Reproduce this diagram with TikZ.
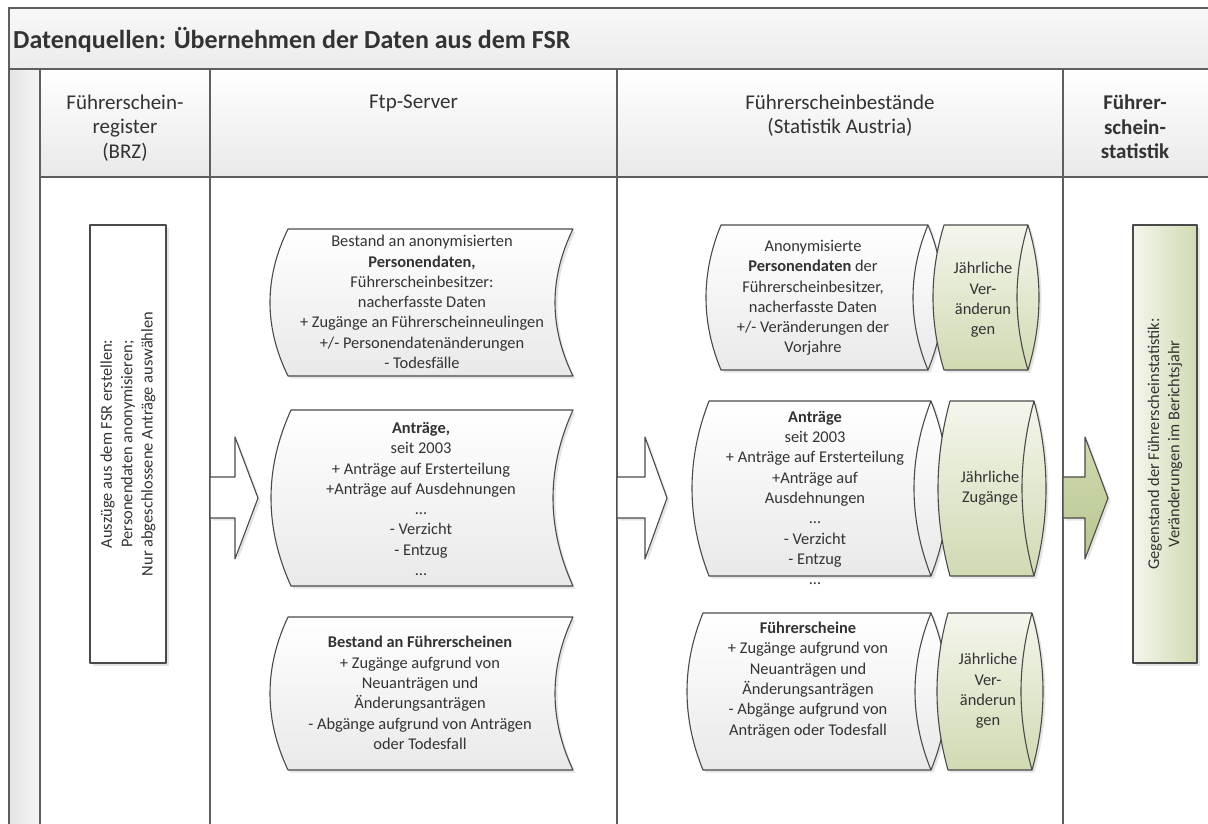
\documentclass[tikz,border=0pt]{standalone}
\usepackage{fontspec}
\setmainfont{Carlito}
\definecolor{framec}{HTML}{5E5E5E}
\definecolor{borderc}{HTML}{4A4A4A}
\definecolor{textc}{HTML}{333333}
\definecolor{graybot}{HTML}{E9E9E9}
\definecolor{greentop}{HTML}{F4F6EC}
\definecolor{greenbot}{HTML}{D0DAB2}
\definecolor{arrowtop}{HTML}{CFD9AF}
\definecolor{arrowbot}{HTML}{B9C791}
\definecolor{titletop}{HTML}{F8F8F8}
\definecolor{titlebot}{HTML}{EBEBEB}
\definecolor{hdrbot}{HTML}{E9E9E9}
\definecolor{gutl}{HTML}{E4E4E4}
\definecolor{gutr}{HTML}{F6F6F6}
\tikzset{
  frameln/.style={draw=framec, line width=1.3pt},
  shp/.style={draw=borderc, line width=1.1pt, line join=round},
  gfill/.style={top color=white, bottom color=graybot},
  grfill/.style={top color=greentop, bottom color=greenbot},
  shadowst/.style={fill=black, opacity=0.10, xshift=2.5pt, yshift=-2.5pt},
  txt/.style={font=\fontsize{16.4}{20.3}\selectfont, align=center, text=textc, inner sep=0pt},
  hdr/.style={font=\fontsize{21}{24.2}\selectfont, align=center, text=textc, inner sep=0pt, anchor=north},
}
% stored data shape: xl xr yt yb bulge
\newcommand\StoredShape[5]{%
  \fill[shadowst] (#1,#3) -- (#2,#3) .. controls ({#2-4*#5/3},{#3+(#4-#3)/3}) and ({#2-4*#5/3},{#4-(#4-#3)/3}) .. (#2,#4) -- (#1,#4) .. controls ({#1-4*#5/3},{#4-(#4-#3)/3}) and ({#1-4*#5/3},{#3+(#4-#3)/3}) .. (#1,#3) -- cycle;
  \path[shp,gfill] (#1,#3) -- (#2,#3) .. controls ({#2-4*#5/3},{#3+(#4-#3)/3}) and ({#2-4*#5/3},{#4-(#4-#3)/3}) .. (#2,#4) -- (#1,#4) .. controls ({#1-4*#5/3},{#4-(#4-#3)/3}) and ({#1-4*#5/3},{#3+(#4-#3)/3}) .. (#1,#3) -- cycle;
}
% horizontal cylinder: xl xr yt yb bulge fillstyle
\newcommand\CylShape[6]{%
  \fill[shadowst] (#1,#3) -- (#2,#3) .. controls ({#2+4*#5/3},{#3+(#4-#3)/3}) and ({#2+4*#5/3},{#4-(#4-#3)/3}) .. (#2,#4) -- (#1,#4) .. controls ({#1-4*#5/3},{#4-(#4-#3)/3}) and ({#1-4*#5/3},{#3+(#4-#3)/3}) .. (#1,#3) -- cycle;
  \path[shp,#6] (#1,#3) -- (#2,#3) .. controls ({#2+4*#5/3},{#3+(#4-#3)/3}) and ({#2+4*#5/3},{#4-(#4-#3)/3}) .. (#2,#4) -- (#1,#4) .. controls ({#1-4*#5/3},{#4-(#4-#3)/3}) and ({#1-4*#5/3},{#3+(#4-#3)/3}) .. (#1,#3) -- cycle;
  \draw[shp] (#2,#3) .. controls ({#2-4*#5/3},{#3+(#4-#3)/3}) and ({#2-4*#5/3},{#4-(#4-#3)/3}) .. (#2,#4);
}
% block arrow: x0 xbase xtip fillstyle
\newcommand\BlockArrow[4]{%
  \fill[shadowst] (#1,477) -- (#2,477) -- (#2,437) -- (#3,498) -- (#2,559) -- (#2,518) -- (#1,518) -- cycle;
  \path[shp,#4] (#1,477) -- (#2,477) -- (#2,437) -- (#3,498) -- (#2,559) -- (#2,518) -- (#1,518) -- cycle;
}
\begin{document}
\begin{tikzpicture}[x=1pt,y=-1pt]
\useasboundingbox (0,0) rectangle (1208,823);
\clip (0,0) rectangle (1208,823);
\fill[white] (0,0) rectangle (1208,823);
% backgrounds
\path[top color=titletop, bottom color=titlebot] (9,8) rectangle (1212,69);
\path[top color=white, bottom color=hdrbot] (40,69) rectangle (1212,177);
\path[left color=gutl, right color=gutr] (9,69) rectangle (40,830);
% frame lines
\draw[frameln] (1212,8) -- (9,8) -- (9,830);
\draw[frameln] (9,69) -- (1212,69);
\draw[frameln] (40,177) -- (1212,177);
\draw[frameln] (40,69) -- (40,830);
\draw[frameln] (210,69) -- (210,830);
\draw[frameln] (617,69) -- (617,830);
\draw[frameln] (1063,69) -- (1063,830);
% title and headers
\node[anchor=west, inner sep=0pt, text=textc, font=\fontsize{26}{30}\selectfont\bfseries] (title) at (13,40) {Datenquellen: Übernehmen der Daten aus dem FSR};
\node[hdr] (h1) at (125,95) {Führerschein-\\register\\(BRZ)};
\node[hdr] (h2) at (413.5,95) {Ftp-Server};
\node[hdr] (h3) at (840,95) {Führerscheinbestände\\(Statistik Austria)};
\node[hdr, font=\fontsize{21}{24.2}\selectfont\bfseries] (h4) at (1135,95) {Führer-\\schein-\\statistik};
% column 1 box
\fill[shadowst] (90,225) rectangle (166,663);
\path[shp, fill=white] (90,225) rectangle (166,663);
\node[txt, rotate=90] (r1) at (128,444) {Auszüge aus dem FSR erstellen:\\Personendaten anonymisieren;\\Nur abgeschlossene Anträge auswählen};
% arrows
\BlockArrow{210}{235}{258}{fill=white}
\BlockArrow{617}{645}{667}{fill=white}
\BlockArrow{1063}{1085}{1108}{top color=arrowtop, bottom color=arrowbot}
% column 2 stored data shapes
\StoredShape{288}{573}{229}{376}{18}
\StoredShape{291}{573}{410}{586}{20}
\StoredShape{288}{573}{617}{770}{18}
\node[txt] (t1) at (422,302) {Bestand an anonymisierten\\\textbf{Personendaten,}\\Führerscheinbesitzer:\\nacherfasste Daten\\+ Zugänge an Führerscheinneulingen\\+/- Personendatenänderungen\\- Todesfälle};
\node[txt] (t2) at (421,499) {\textbf{Anträge,}\\seit 2003\\+ Anträge auf Ersterteilung\\+Anträge auf Ausdehnungen\\...\\- Verzicht\\- Entzug\\...};
\node[txt] (t3) at (420,693) {\textbf{Bestand an Führerscheinen}\\+ Zugänge aufgrund von\\Neuanträgen und\\Änderungsanträgen\\- Abgänge aufgrund von Anträgen\\oder Todesfall};
% column 3 cylinders
\CylShape{721}{928}{225}{370}{15}{gfill}
\CylShape{944}{1028}{225}{370}{11}{grfill}
\CylShape{709}{931}{401}{576}{17}{gfill}
\CylShape{950}{1034}{401}{576}{12}{grfill}
\CylShape{703}{931}{613}{770}{16}{gfill}
\CylShape{948}{1032}{613}{770}{11}{grfill}
\node[txt] (t4) at (813,298) {Anonymisierte\\\textbf{Personendaten} der\\Führerscheinbesitzer,\\nacherfasste Daten\\+/- Veränderungen der\\Vorjahre};
\node[txt] (t5) at (815,498) {\textbf{Anträge}\\seit 2003\\+ Anträge auf Ersterteilung\\+Anträge auf\\Ausdehnungen\\...\\- Verzicht\\- Entzug\\...};
\node[txt] (t6) at (808,680) {\textbf{Führerscheine}\\+ Zugänge aufgrund von\\Neuanträgen und\\Änderungsanträgen\\- Abgänge aufgrund von\\Anträgen oder Todesfall};
\node[txt] (g1) at (983,300) {Jährliche\\Ver-\\änderun\\gen};
\node[txt] (g2) at (990,488) {Jährliche\\Zugänge};
\node[txt] (g3) at (988,691) {Jährliche\\Ver-\\änderun\\gen};
% column 4 box
\fill[shadowst] (1133,225) rectangle (1197,663);
\path[shp, left color=greentop, right color=greenbot] (1133,225) rectangle (1197,663);
\node[txt, rotate=90] (r2) at (1165,444) {Gegenstand der Führerscheinstatistik:\\Veränderungen im Berichtsjahr};
\end{tikzpicture}
\end{document}
